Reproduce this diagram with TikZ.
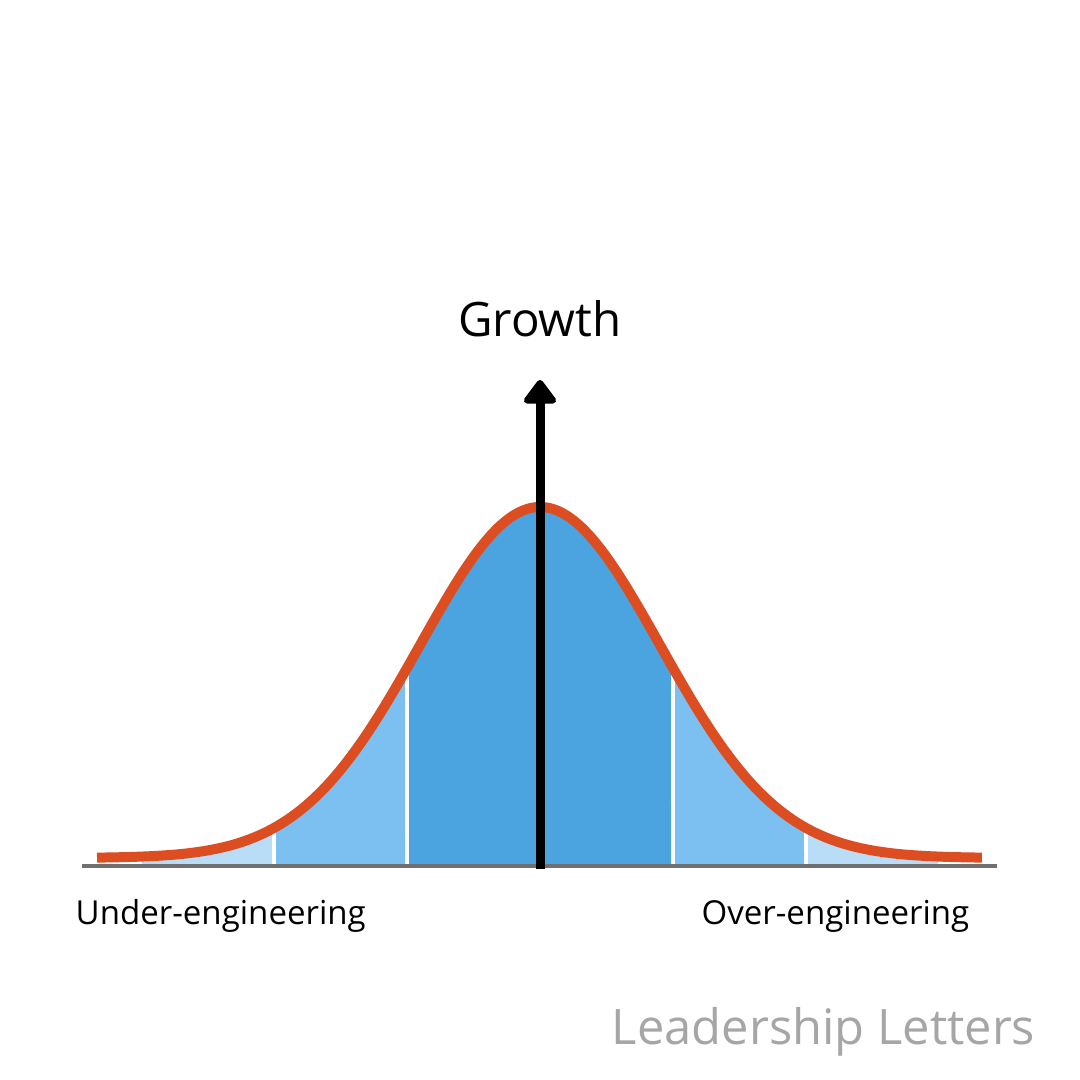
\documentclass[tikz,border=0pt]{standalone}
\usepackage{fontspec}
\setmainfont{Open Sans}
\usetikzlibrary{arrows.meta}
\definecolor{bellred}{HTML}{DC4E22}
\definecolor{bandlight}{HTML}{B9DDF6}
\definecolor{bandmid}{HTML}{7BC0F0}
\definecolor{banddark}{HTML}{4BA4E0}
\definecolor{axisgray}{HTML}{707070}
\definecolor{signgray}{HTML}{A6A6A6}
\tikzstyle{bell} = [line width=0.1cm, color=bellred, smooth, samples=120]
\tikzstyle{axisline} = [line width=0.04cm, color=axisgray]
\tikzstyle{growarrow} = [line width=0.09cm, -{Triangle[width=0.37cm,length=0.26cm,round]}, color=black]
\tikzstyle{lbl} = [inner sep=0pt, anchor=base, font=\fontsize{9.4}{11}\selectfont]
\newcommand{\bellfn}[1]{2.22+3.51*exp(-((#1-5.4)^2)/(2*1.2^2))}
\newcommand{\band}[3]{\fill[#1] (#2,2.14) -- plot[smooth, samples=40, domain=#2:#3] (\x,{\bellfn{\x}}) -- (#3,2.14) -- cycle;}

\begin{document}
\begin{tikzpicture}
\useasboundingbox (0,0) rectangle (10.8,10.8);

% shaded bands under the curve
\band{bandlight}{1.42}{2.72}
\band{bandmid}{2.76}{4.05}
\band{banddark}{4.09}{6.71}
\band{bandmid}{6.75}{8.04}
\band{bandlight}{8.08}{9.38}

% axis
\coordinate (axl) at (0.82,2.14);
\coordinate (axr) at (9.97,2.14);
\draw [axisline] (axl) -- (axr);

% bell curve
\draw [bell] plot[domain=0.97:9.82] (\x,{\bellfn{\x}});

% growth arrow
\coordinate (axisbot) at (5.4,2.11);
\coordinate (axistop) at (5.4,7.0);
\draw [growarrow] (axisbot) -- (axistop);

\node (growth) [lbl, font=\fontsize{13.5}{15}\selectfont] at (5.4,7.43) {Growth};
\node (under) [lbl, anchor=base west] at (0.75,1.55) {Under-engineering};
\node (over) [lbl, anchor=base east] at (9.70,1.55) {Over-engineering};
\node (brand) [lbl, anchor=base east, text=signgray, font=\fontsize{13.9}{16}\selectfont] at (10.36,0.35) {Leadership Letters};

\end{tikzpicture}
\end{document}
